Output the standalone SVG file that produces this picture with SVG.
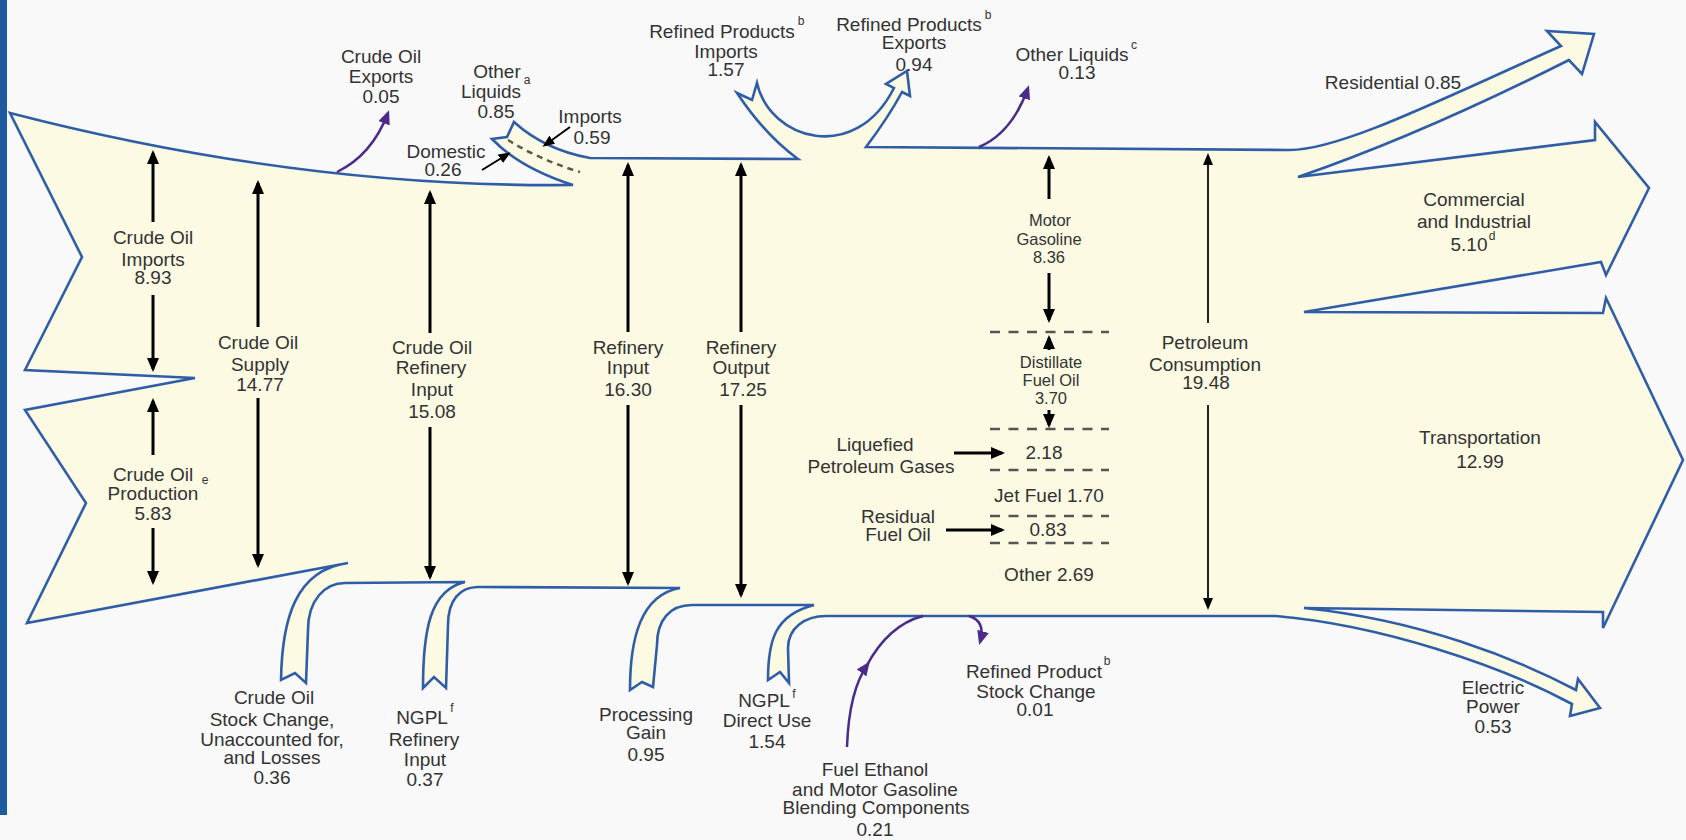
<svg xmlns="http://www.w3.org/2000/svg" width="1686" height="840" viewBox="0 0 1686 840">
<defs>
<style>
.flow{fill:#fcfae3;stroke:#2f5ea6;stroke-width:2.6;stroke-linejoin:miter}
.lbl{font-family:"Liberation Sans",Arial,Helvetica,sans-serif;font-size:19px;fill:#333;text-anchor:middle}
.sm{font-size:16.5px}
.sup{font-size:12px}
.arr{stroke:#000;stroke-width:3;fill:none;marker-end:url(#ah)}
.arrs{stroke:#000;stroke-width:2;fill:none;marker-end:url(#ahs)}
.arrt{stroke:#222;stroke-width:2;fill:none;marker-end:url(#ahs)}
.pur{stroke:#4b2a8c;stroke-width:2.5;fill:none;marker-end:url(#ahp)}
.dash{stroke:#555;stroke-width:2.5;stroke-dasharray:10 8.5;fill:none}
.rdash{stroke:#5a5a48;stroke-width:2.5;stroke-dasharray:6 5;fill:none}
</style>
<marker id="ah" markerUnits="userSpaceOnUse" markerWidth="14" markerHeight="12" viewBox="0 0 14 12" refX="11" refY="6" orient="auto"><path d="M0,0 L14,6 L0,12 Z" fill="#000"/></marker>
<marker id="ahs" markerUnits="userSpaceOnUse" markerWidth="12" markerHeight="10" viewBox="0 0 12 10" refX="9" refY="5" orient="auto"><path d="M0,0 L12,5 L0,10 Z" fill="#000"/></marker>
<marker id="ahp" markerUnits="userSpaceOnUse" markerWidth="14" markerHeight="12" viewBox="0 0 14 12" refX="11" refY="6" orient="auto"><path d="M0,0 L14,6 L0,12 Z" fill="#4b2a8c"/></marker>
</defs>
<rect x="0" y="0" width="1686" height="840" fill="#f9f9f9"/>
<rect x="0" y="0" width="7" height="815" fill="#1f5b9f"/>

<g id="flow-body">
<path class="flow" d="M10,113 Q300,188 573,185 Q520,168 492,139 L507,137 L514,122 Q545,150 590,158 L798,159 Q765,135 737,93 L752,100 L757,83 C770,140 855,165 894,88 L886,84 L907,71 L910,96 L902,92 Q888,118 866,147 L1290,150 C1340,150 1440,100 1561,46 L1547,31 L1594,34 L1582,74 L1569,60 Q1420,135 1298,177 L1595,140 L1595,122 L1649,188 L1606,275 L1601,262 L1304,312 L1603,313 L1606,298 L1683,460 L1603,628 L1603,612 L1304,608 C1420,620 1515,658 1576,690 L1578,679 L1600,708 L1570,716 L1572,704 C1500,665 1380,625 1276,616 L826,616 C805,616 788,628 788,648 L789,683 L780,672 L768,680 C768,640 775,615 814,605 L692,605 C670,605 657,620 657,645 L653,687 L642,682 L630,690 C630,640 640,595 680,588 L478,587 C460,587 448,600 448,625 L446,688 L434,677 L423,688 C423,630 430,590 465,582 L345,583 C325,583 308,600 308,630 L306,683 L295,673 L281,680 C282,620 295,570 348,563 L27,623 L86,503 L25,410 L195,378 L25,370 L82,257 Z"/>
<path class="rdash" d="M508,140 Q540,160 580,172"/>
<g id="product-dividers">
<line class="dash" x1="990" y1="332" x2="1109" y2="332"/>
<line class="dash" x1="990" y1="429" x2="1109" y2="429"/>
<line class="dash" x1="990" y1="470" x2="1109" y2="470"/>
<line class="dash" x1="990" y1="516" x2="1109" y2="516"/>
<line class="dash" x1="990" y1="543" x2="1109" y2="543"/>
</g>
</g>

<g id="connectors">
<path class="arr" d="M153,222 L153,153"/>
<path class="arr" d="M153,295 L153,369"/>
<path class="arr" d="M153,455 L153,401"/>
<path class="arr" d="M153,528 L153,582"/>
<path class="arr" d="M258,327 L258,183"/>
<path class="arr" d="M258,398 L258,565"/>
<path class="arr" d="M430,333 L430,193"/>
<path class="arr" d="M430,427 L430,577"/>
<path class="arr" d="M628,332 L628,165"/>
<path class="arr" d="M628,405 L628,583"/>
<path class="arr" d="M741,332 L741,165"/>
<path class="arr" d="M741,405 L741,595"/>
<path class="arr" d="M1049,199 L1049,158"/>
<path class="arr" d="M1049,273 L1049,320"/>
<path class="arr" d="M1049,350 L1049,338"/>
<path class="arr" d="M1049,410 L1049,425"/>
<path class="arrt" d="M1208,323 L1208,156"/>
<path class="arrt" d="M1208,405 L1208,607"/>
<path class="arr" d="M954,453 L1002,453"/>
<path class="arr" d="M946,530 L1002,530"/>
<path class="arrs" d="M482,170 L508,154"/>
<path class="arrs" d="M570,127 L545,145"/>
<path class="pur" d="M337,172 Q372,155 388,113"/>
<path class="pur" d="M979,147 Q1012,133 1028,88"/>
<path class="pur" d="M847,747 Q849,690 868,664"/>
<path class="pur" style="marker-end:none" d="M866,667 Q888,625 923,616"/>
<path class="pur" d="M969,616 Q986,621 980,642"/>
</g>

<g id="crude-exports" class="lbl"><text x="381" y="63">Crude Oil</text><text x="381" y="83">Exports</text><text x="381" y="103">0.05</text></g>
<g id="other-liquids-a" class="lbl"><text x="497" y="78">Other</text><text class="sup" x="527" y="84">a</text><text x="491" y="98">Liquids</text><text x="496" y="118">0.85</text></g>
<g id="domestic" class="lbl"><text x="446" y="158">Domestic</text><text x="443" y="176">0.26</text></g>
<g id="other-imports" class="lbl"><text x="590" y="123">Imports</text><text x="592" y="144">0.59</text></g>
<g id="refined-imports" class="lbl"><text x="722" y="38">Refined Products</text><text class="sup" x="801" y="25">b</text><text x="726" y="58">Imports</text><text x="726" y="76">1.57</text></g>
<g id="refined-exports" class="lbl"><text x="909" y="31">Refined Products</text><text class="sup" x="988" y="19">b</text><text x="914" y="49">Exports</text><text x="914" y="71">0.94</text></g>
<g id="other-liquids-c" class="lbl"><text x="1072" y="61">Other Liquids</text><text class="sup" x="1134" y="49">c</text><text x="1077" y="79">0.13</text></g>
<g id="residential" class="lbl"><text x="1393" y="89">Residential 0.85</text></g>
<g id="commercial" class="lbl"><text x="1474" y="206">Commercial</text><text x="1474" y="228">and Industrial</text><text x="1469" y="251">5.10</text><text class="sup" x="1492" y="240">d</text></g>
<g id="crude-imports" class="lbl"><text x="153" y="244">Crude Oil</text><text x="153" y="266">Imports</text><text x="153" y="284">8.93</text></g>
<g id="crude-supply" class="lbl"><text x="258" y="349">Crude Oil</text><text x="260" y="371">Supply</text><text x="260" y="391">14.77</text></g>
<g id="crude-refinery-input" class="lbl"><text x="432" y="354">Crude Oil</text><text x="431" y="374">Refinery</text><text x="432" y="396">Input</text><text x="432" y="418">15.08</text></g>
<g id="refinery-input" class="lbl"><text x="628" y="354">Refinery</text><text x="628" y="374">Input</text><text x="628" y="396">16.30</text></g>
<g id="refinery-output" class="lbl"><text x="741" y="354">Refinery</text><text x="741" y="374">Output</text><text x="743" y="396">17.25</text></g>
<g id="motor-gasoline" class="lbl sm"><text x="1050" y="226">Motor</text><text x="1049" y="245">Gasoline</text><text x="1049" y="263">8.36</text></g>
<g id="distillate" class="lbl sm"><text x="1051" y="368">Distillate</text><text x="1051" y="386">Fuel Oil</text><text x="1051" y="404">3.70</text></g>
<g id="lpg" class="lbl"><text x="875" y="451">Liquefied</text><text x="881" y="473">Petroleum Gases</text><text x="1044" y="459">2.18</text></g>
<g id="jet-fuel" class="lbl"><text x="1049" y="502">Jet Fuel 1.70</text></g>
<g id="residual" class="lbl"><text x="898" y="523">Residual</text><text x="898" y="541">Fuel Oil</text><text x="1048" y="536">0.83</text></g>
<g id="other-products" class="lbl"><text x="1049" y="581">Other 2.69</text></g>
<g id="crude-production" class="lbl"><text x="153" y="481">Crude Oil</text><text class="sup" x="205" y="484">e</text><text x="153" y="500">Production</text><text x="153" y="520">5.83</text></g>
<g id="petroleum-consumption" class="lbl"><text x="1205" y="349">Petroleum</text><text x="1205" y="371">Consumption</text><text x="1206" y="389">19.48</text></g>
<g id="transportation" class="lbl"><text x="1480" y="444">Transportation</text><text x="1480" y="468">12.99</text></g>
<g id="crude-stock" class="lbl"><text x="274" y="704">Crude Oil</text><text x="272" y="726">Stock Change,</text><text x="272" y="746">Unaccounted for,</text><text x="272" y="764">and Losses</text><text x="272" y="784">0.36</text></g>
<g id="ngpl-refinery" class="lbl"><text x="422" y="724">NGPL</text><text class="sup" x="452" y="712">f</text><text x="424" y="746">Refinery</text><text x="425" y="766">Input</text><text x="425" y="786">0.37</text></g>
<g id="processing-gain" class="lbl"><text x="646" y="721">Processing</text><text x="646" y="739">Gain</text><text x="646" y="761">0.95</text></g>
<g id="ngpl-direct" class="lbl"><text x="764" y="707">NGPL</text><text class="sup" x="794" y="698">f</text><text x="767" y="727">Direct Use</text><text x="767" y="748">1.54</text></g>
<g id="fuel-ethanol" class="lbl"><text x="875" y="776">Fuel Ethanol</text><text x="875" y="796">and Motor Gasoline</text><text x="876" y="814">Blending Components</text><text x="875" y="836">0.21</text></g>
<g id="refined-stock" class="lbl"><text x="1034" y="678">Refined Product</text><text class="sup" x="1107" y="665">b</text><text x="1036" y="698">Stock Change</text><text x="1035" y="716">0.01</text></g>
<g id="electric-power" class="lbl"><text x="1493" y="694">Electric</text><text x="1493" y="713">Power</text><text x="1493" y="733">0.53</text></g>
</svg>
